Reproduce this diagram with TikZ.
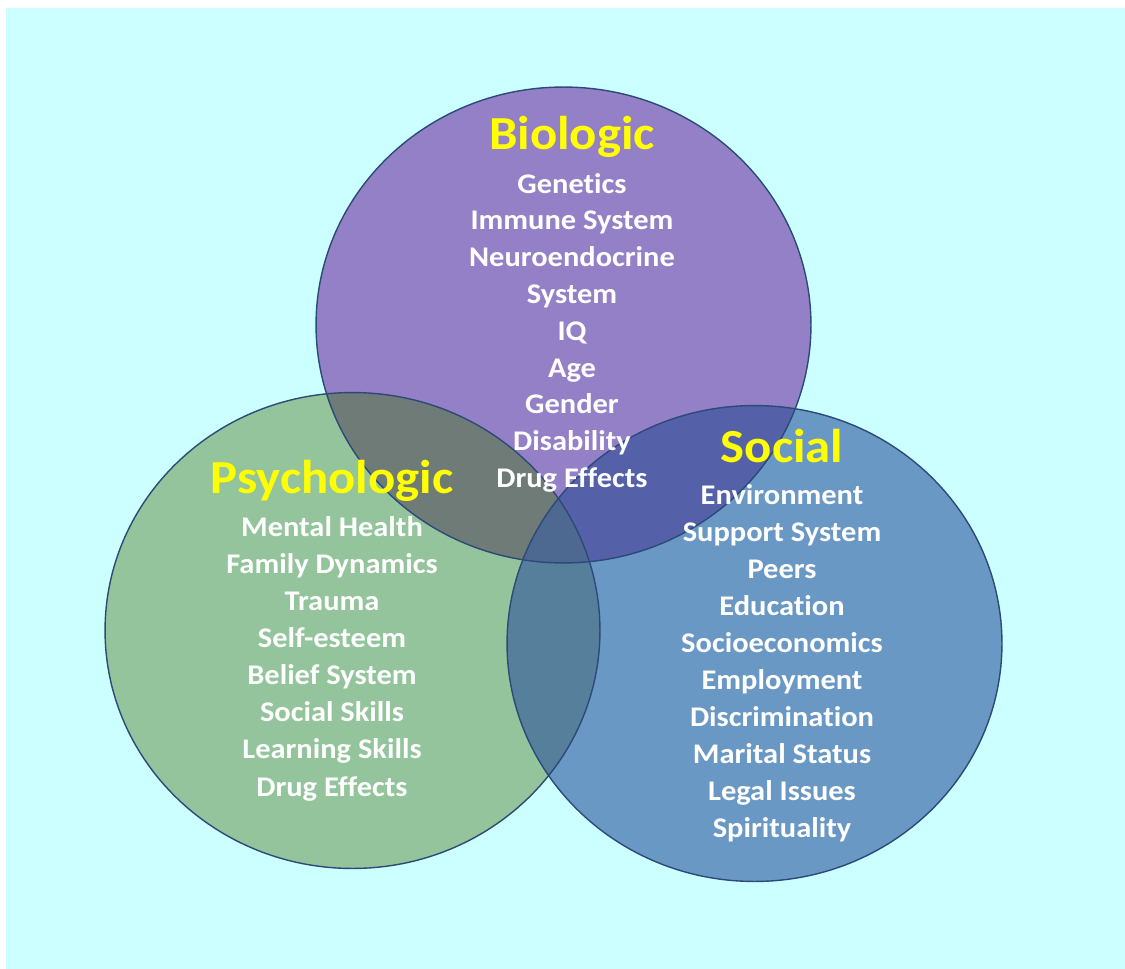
\documentclass[tikz,border=0pt]{standalone}
\usepackage{fontspec}
\setmainfont{Carlito}[FakeStretch=1.07, Ligatures=NoCommon]
\usepackage{xcolor}

\begin{document}
\begin{tikzpicture}[x=0.02cm, y=-0.02cm]

  \definecolor{my_cyan}{RGB}{204,255,255}
  \definecolor{my_purple}{RGB}{148,128,198}
  \definecolor{my_green}{RGB}{148,196,156}
  \definecolor{my_blue}{RGB}{106,152,196}
  \definecolor{my_gray}{RGB}{111,123,119}
  \definecolor{my_indigo}{RGB}{84,97,168}
  \definecolor{my_teal}{RGB}{86,127,156}
  \definecolor{my_navy}{RGB}{77,104,145}
  \definecolor{my_edge}{RGB}{44,74,120}
  \definecolor{my_yellow}{RGB}{255,255,0}

  \tikzstyle{title} = [font=\bfseries\fontsize{27}{32}\selectfont, text=my_yellow, inner sep=0pt, text height=1.5ex, text depth=0.25ex]
  \tikzstyle{item} = [font=\bfseries\fontsize{16.2}{20}\selectfont, text=white, inner sep=0pt, text height=1.5ex, text depth=0.25ex]
  \tikzstyle{ring} = [draw=my_edge, line width=0.8pt]

  \useasboundingbox (0,0) rectangle (1125,969);
  \fill[white] (0,0) rectangle (1125,969);
  \fill[my_cyan] (6,8) rectangle (1125,969);

  % circle centres
  \coordinate (bio) at (563.5,325);
  \coordinate (psy) at (352.5,630.5);
  \coordinate (soc) at (754.5,643.5);

  \fill[my_purple] (bio) ellipse [x radius=4.95cm, y radius=4.76cm];
  \fill[my_green] (psy) ellipse [x radius=4.95cm, y radius=4.76cm];
  \fill[my_blue] (soc) ellipse [x radius=4.95cm, y radius=4.76cm];

  % overlaps
  \begin{scope}
    \clip (bio) ellipse [x radius=4.95cm, y radius=4.76cm];
    \fill[my_gray] (psy) ellipse [x radius=4.95cm, y radius=4.76cm];
    \fill[my_indigo] (soc) ellipse [x radius=4.95cm, y radius=4.76cm];
  \end{scope}
  \begin{scope}
    \clip (psy) ellipse [x radius=4.95cm, y radius=4.76cm];
    \fill[my_teal] (soc) ellipse [x radius=4.95cm, y radius=4.76cm];
  \end{scope}
  \begin{scope}
    \clip (bio) ellipse [x radius=4.95cm, y radius=4.76cm];
    \clip (psy) ellipse [x radius=4.95cm, y radius=4.76cm];
    \fill[my_navy] (soc) ellipse [x radius=4.95cm, y radius=4.76cm];
  \end{scope}

  \draw[ring] (bio) ellipse [x radius=4.95cm, y radius=4.76cm];
  \draw[ring] (psy) ellipse [x radius=4.95cm, y radius=4.76cm];
  \draw[ring] (soc) ellipse [x radius=4.95cm, y radius=4.76cm];

  % titles
  \node[title] (biologic) at (572,144) {Biologic};
  \node[title] (psychologic) at (332,488) {Psychologic};
  \node[title] (social) at (782,457) {Social};

  % lists
  \foreach \txt [count=\i] in {Genetics, Immune System, Neuroendocrine, System, IQ, Age, Gender, Disability, Drug Effects}
    \node[item] (bio-\i) at (572,151+36.8*\i) {\txt};

  \foreach \txt [count=\i] in {Mental Health, Family Dynamics, Trauma, Self-esteem, Belief System, Social Skills, Learning Skills, Drug Effects}
    \node[item] (psy-\i) at (332,494+37.1*\i) {\txt};

  \foreach \txt [count=\i] in {Environment, Support System, Peers, Education, Socioeconomics, Employment, Discrimination, Marital Status, Legal Issues, Spirituality}
    \node[item] (soc-\i) at (782,462+37*\i) {\txt};

\end{tikzpicture}
\end{document}
